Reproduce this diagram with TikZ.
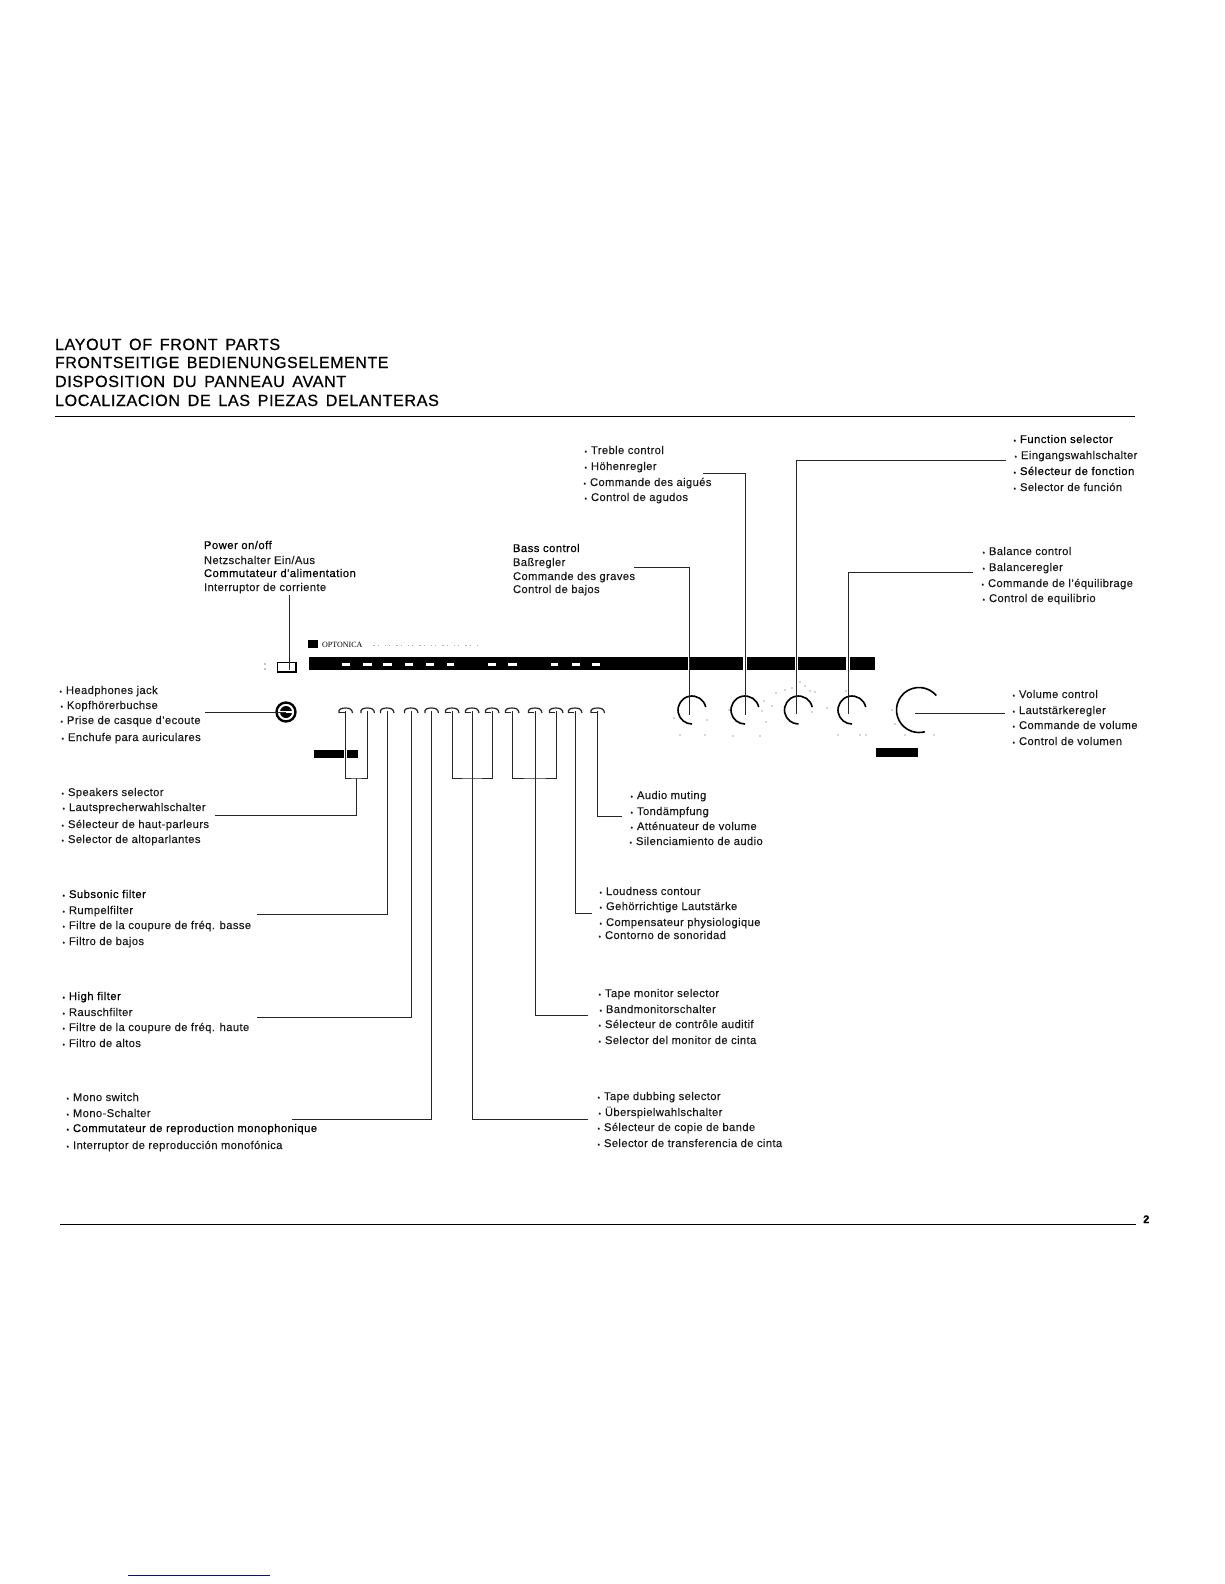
\documentclass[tikz,border=0pt]{standalone}
\usepackage{fontspec}
\setmainfont{Liberation Sans}[LetterSpace=3.5,FakeBold=0.2]
\newfontfamily\logofont{Liberation Serif}
\newfontfamily\ttlfont{Liberation Sans}[LetterSpace=3.5,WordSpace=1.5,FakeBold=0.6]
\newfontfamily\heavyfont{Liberation Sans}[LetterSpace=4.5,FakeBold=0.6]
\newcommand{\bul}{\llap{\fontsize{7}{7}\selectfont •\hspace{4pt}}}
\newcommand{\lab}[4]{\node[lbl] (#1) at (#2,#3) {\bul #4};}
\newcommand{\labh}[4]{\node[hvy] (#1) at (#2,#3) {\bul #4};}
\definecolor{navyline}{RGB}{10,10,160}
\tikzset{
  lbl/.style={anchor=base west,inner sep=0pt,outer sep=0pt,font=\fontsize{11.2}{12}\selectfont,text=black!90},
  hvy/.style={anchor=base west,inner sep=0pt,outer sep=0pt,font=\heavyfont\fontsize{11.2}{12}\selectfont,text=black},
  ttl/.style={anchor=base west,inner sep=0pt,outer sep=0pt,font=\ttlfont\fontsize{16.2}{18}\selectfont,text=black},
  wire/.style={line width=1pt,black!85,line join=miter},
  halo/.style={white,line width=3.6pt},
  blk/.style={fill=black,draw=none},
  knob/.style={line width=1.6pt,black},
  sw/.style={line width=1.2pt,black!85}
}
\begin{document}
\begin{tikzpicture}[x=1pt,y=-1pt]
\useasboundingbox[fill=white] (0,0) rectangle (1224,1584);
% titles
\node[ttl] (t1) at (55,350) {LAYOUT OF FRONT PARTS};
\node[ttl,font=\ttlfont\fontsize{16}{18}\selectfont] (t2) at (55,368) {FRONTSEITIGE BEDIENUNGSELEMENTE};
\node[ttl] (t3) at (55,387) {DISPOSITION DU PANNEAU AVANT};
\node[ttl] (t4) at (55,406) {LOCALIZACION DE LAS PIEZAS DELANTERAS};
\coordinate (ra) at (55,416); \coordinate (rb) at (1135,416);
\draw[line width=0.9pt] (ra) -- (rb);
% front panel
\node[blk,inner sep=0pt,minimum width=566pt,minimum height=13pt,anchor=north west] (bar) at (309,657) {};
\foreach \a/\b in {342/350,363/372,383/392,405/413,426/434,447/454,488/496,508/517,551/558,572/580,592/600}
  \fill[white] (\a,663) rectangle (\b,666);
\node[blk,inner sep=0pt,minimum width=10pt,minimum height=8pt,anchor=north west] (logomark) at (308,640) {};
\node[anchor=base west,inner sep=0pt,font=\logofont\fontsize{8}{9}\selectfont] (logo) at (322,647.5) {OPTONICA};
\draw[black!30,line width=0.6pt,dash pattern=on 1.5pt off 3pt on 1pt off 6pt] (373,645) -- (480,645);
\node[blk,inner sep=0pt,minimum width=44pt,minimum height=8.5pt,anchor=north west] (lowa) at (314,749.5) {};
\node[blk,inner sep=0pt,minimum width=42pt,minimum height=8.5pt,anchor=north west] (lowb) at (876,748) {};
% power switch
\node[draw=black,line width=0.8pt,inner sep=0pt,minimum width=18pt,minimum height=10pt,anchor=north west] (pwr) at (277,661.5) {};
\draw[line width=1.7pt] (pwr.north east) -- (pwr.south east) -- (pwr.south west);
\fill (265,664) circle (0.7pt) (265,669) circle (0.7pt);
% jack
\node[circle,draw=black,line width=2.4pt,minimum size=19pt,inner sep=0pt] (jack) at (286,712) {};
\fill[black] (286,712) circle (6pt);
\fill[white] (279.5,711) rectangle (292.5,713);
% switches
\foreach \x/\n in {345.5/a,367.5/b,387/c,411/d,431.5/e,452/f,472/g,492/h,512/i,535/j,556/k,575/l,597.5/m}{
  \coordinate (s\n) at (\x,711);
  \draw[sw] (\x-6.5,713) .. controls (\x-7.5,709) and (\x-4,708) .. (\x,708) .. controls (\x+4,708) and (\x+6.5,709) .. (\x+7,713);
}
\foreach \n in {a,f,g,h,i,j,k,l,m}{
  \draw[sw] ([xshift=-6.5pt,yshift=-1.8pt]s\n) -- ([xshift=-1pt,yshift=-1.8pt]s\n);
}
% knobs
\foreach \x/\n in {692/1,745/2,798.5/3,852/4}{
  \coordinate (k\n) at (\x,710);
  \draw[knob] (\x,710) ++(-12:14) arc[start angle=-12,end angle=-270,radius=14];
}
\coordinate (k5) at (919,710);
\draw[knob] (919,710) ++(-40:22.5) arc[start angle=-40,end angle=-285,radius=22.5];
% knob specks
\foreach \x/\y in {674/718,707/720,680/735,705/735,729/710,764/701,762/711,766/722,733/736,760/736,776/693,800/682,815/692,812/712,772/706,827/708,846/691,838/735,860/735,866/735,892/710,895/724,905/735,934/735,785/690,792/688,805/686,810/691}
  \fill[black!70] (\x,\y) circle (0.6pt);
% labels
\node[hvy] (p1) at (204,549) {Power on/off};
\node[lbl] (p2) at (204,564) {Netzschalter Ein/Aus};
\node[hvy] (p3) at (204,577) {Commutateur d'alimentation};
\node[lbl] (p4) at (204,591) {Interruptor de corriente};

\lab{tr1}{591}{454}{Treble control}
\lab{tr2}{591}{470}{Höhenregler}
\lab{tr3}{590}{486}{Commande des aigués}
\lab{tr4}{591}{501}{Control de agudos}

\node[hvy] (ba1) at (513,552) {Bass control};
\node[lbl] (ba2) at (513,566) {Baßregler};
\node[lbl] (ba3) at (513,580) {Commande des graves};
\node[lbl] (ba4) at (513,593) {Control de bajos};

\labh{fu1}{1020}{443}{Function selector}
\lab{fu2}{1021}{459}{Eingangswahlschalter}
\labh{fu3}{1020}{475}{Sélecteur de fonction}
\lab{fu4}{1020}{491}{Selector de función}

\lab{bl1}{989}{555}{Balance control}
\lab{bl2}{989}{571}{Balanceregler}
\lab{bl3}{988}{587}{Commande de l'équilibrage}
\lab{bl4}{989}{602}{Control de equilibrio}

\lab{vo1}{1019}{698}{Volume control}
\lab{vo2}{1019}{714}{Lautstärkeregler}
\lab{vo3}{1019}{729}{Commande de volume}
\lab{vo4}{1019}{745}{Control de volumen}

\lab{he1}{66}{694}{Headphones jack}
\lab{he2}{67}{709}{Kopfhörerbuchse}
\lab{he3}{67}{724}{Prise de casque d'ecoute}
\lab{he4}{68}{741}{Enchufe para auriculares}

\lab{sp1}{68}{796}{Speakers selector}
\lab{sp2}{69}{811}{Lautsprecherwahlschalter}
\lab{sp3}{68}{828}{Sélecteur de haut-parleurs}
\lab{sp4}{68}{843}{Selector de altoparlantes}

\labh{su1}{69}{898}{Subsonic filter}
\lab{su2}{69}{914}{Rumpelfilter}
\lab{su3}{69}{929}{Filtre de la coupure de fréq. basse}
\lab{su4}{69}{945}{Filtro de bajos}

\labh{hi1}{69}{1000}{High filter}
\lab{hi2}{69}{1016}{Rauschfilter}
\lab{hi3}{69}{1031}{Filtre de la coupure de fréq. haute}
\lab{hi4}{69}{1047}{Filtro de altos}

\lab{mo1}{73}{1101}{Mono switch}
\lab{mo2}{73}{1117}{Mono-Schalter}
\labh{mo3}{73}{1132}{Commutateur de reproduction monophonique}
\lab{mo4}{73}{1149}{Interruptor de reproducción monofónica}

\lab{au1}{637}{799}{Audio muting}
\lab{au2}{637}{815}{Tondämpfung}
\lab{au3}{637}{830}{Atténuateur de volume}
\lab{au4}{636}{845}{Silenciamiento de audio}

\lab{lo1}{606}{895}{Loudness contour}
\lab{lo2}{606}{910}{Gehörrichtige Lautstärke}
\lab{lo3}{606}{926}{Compensateur physiologique}
\lab{lo4}{605}{939}{Contorno de sonoridad}

\lab{tm1}{605}{997}{Tape monitor selector}
\lab{tm2}{606}{1013}{Bandmonitorschalter}
\lab{tm3}{605}{1028}{Sélecteur de contrôle auditif}
\lab{tm4}{605}{1044}{Selector del monitor de cinta}

\lab{td1}{604}{1100}{Tape dubbing selector}
\lab{td2}{605}{1116}{Überspielwahlschalter}
\lab{td3}{604}{1131}{Sélecteur de copie de bande}
\lab{td4}{604}{1147}{Selector de transferencia de cinta}

% connector free ends
\coordinate (cTr) at (703,473);
\coordinate (cBa) at (634,567);
\coordinate (cFu) at (1006,460);
\coordinate (cBl) at (973,572);
\coordinate (cVo) at (1005,713);
\coordinate (cVoE) at (915,713);
\coordinate (cHe) at (205,712);
\coordinate (cSp) at (215,815);
\coordinate (cSu) at (257,914);
\coordinate (cHi) at (257,1017);
\coordinate (cMo) at (292,1119);
\coordinate (cTd) at (588,1119);
\coordinate (cTm) at (588,1015);
\coordinate (cLo) at (592,913);
\coordinate (cAu) at (622,816);
\coordinate (cPw) at (289,595);
\coordinate (cPwE) at (289,670);
\coordinate (brA) at (356.5,778);
\coordinate (brB) at (472,778);
\coordinate (brC) at (535,778);
% halos across the black panels
\foreach \x in {745,796.5,848}
  \draw[halo] (\x,656.5) -- (\x,670.5);
\draw[white,line width=1.8pt] (689,656.5) -- (689,670.5);
\draw[halo] (345.5,749) -- (345.5,758.5);
% connectors
\draw[wire] (cPw) -- (cPwE);
\draw[wire] (cTr) -| ([yshift=-5pt]k2);
\draw[wire] (cBa) -| ([xshift=-3pt,yshift=-5pt]k1);
\draw[wire] (cFu) -| ([xshift=-2pt,yshift=-4pt]k3);
\draw[wire] (cBl) -| ([xshift=-4pt,yshift=-4pt]k4);
\draw[wire] (cVo) -- (cVoE);
\draw[wire] (cHe) -- (jack.center);
\draw[wire] (sa) |- (brA) -| (sb);
\draw[wire] (cSp) -| (brA);
\draw[wire] (cSu) -| (sc);
\draw[wire] (cHi) -| (sd);
\draw[wire] (cMo) -| (se);
\draw[wire] (sf) |- (brB) -| (sh);
\draw[wire] (sg) -- (brB);
\draw[wire] (cTd) -| (brB);
\draw[wire] (si) |- (brC) -| (sk);
\draw[wire] (sj) -- (brC);
\draw[wire] (cTm) -| (brC);
\draw[wire] (cLo) -| (sl);
\draw[wire] (cAu) -| (sm);
% bottom
\coordinate (rc) at (60,1224); \coordinate (rd) at (1136,1224);
\draw[line width=0.9pt] (rc) -- (rd);
\node[anchor=base west,inner sep=0pt,font=\bfseries\fontsize{11}{12}\selectfont] (pg) at (1143,1223) {2};
\coordinate (ue) at (128,1575); \coordinate (uf) at (270,1575);
\draw[line width=1pt,navyline] (ue) -- (uf);
\end{tikzpicture}
\end{document}
